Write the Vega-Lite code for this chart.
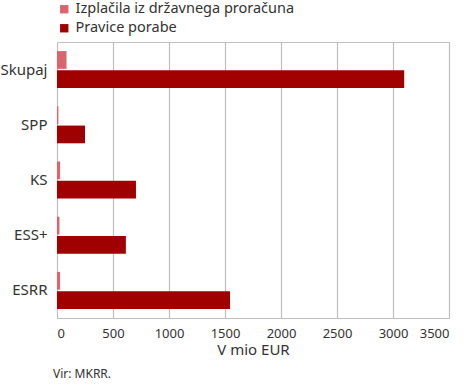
{
  "$schema": "https://vega.github.io/schema/vega-lite/v6.json",
  "autosize": {"type": "none"},
  "width": 392,
  "height": 276,
  "padding": {"left": 57, "top": 42, "right": 26, "bottom": 71},
  "background": "white",
  "config": {
    "font": "Noto Sans",
    "view": {"stroke": "#bfbfbf", "strokeWidth": 1}
  },
  "title": {
    "text": "Vir: MKRR.",
    "orient": "bottom",
    "anchor": "start",
    "frame": "group",
    "dx": -4,
    "offset": 12,
    "fontSize": 12,
    "fontWeight": "normal",
    "color": "#333333"
  },
  "data": {
    "values": [
      {"kategorija": "Skupaj", "serija": "Izplačila iz državnega proračuna", "vrednost": 85},
      {"kategorija": "Skupaj", "serija": "Pravice porabe", "vrednost": 3100},
      {"kategorija": "SPP", "serija": "Izplačila iz državnega proračuna", "vrednost": 12},
      {"kategorija": "SPP", "serija": "Pravice porabe", "vrednost": 250},
      {"kategorija": "KS", "serija": "Izplačila iz državnega proračuna", "vrednost": 28},
      {"kategorija": "KS", "serija": "Pravice porabe", "vrednost": 705},
      {"kategorija": "ESS+", "serija": "Izplačila iz državnega proračuna", "vrednost": 22},
      {"kategorija": "ESS+", "serija": "Pravice porabe", "vrednost": 615},
      {"kategorija": "ESRR", "serija": "Izplačila iz državnega proračuna", "vrednost": 28},
      {"kategorija": "ESRR", "serija": "Pravice porabe", "vrednost": 1545}
    ]
  },
  "mark": {"type": "bar"},
  "encoding": {
    "y": {
      "field": "kategorija",
      "type": "nominal",
      "sort": ["Skupaj", "SPP", "KS", "ESS+", "ESRR"],
      "scale": {"paddingInner": 0.33, "paddingOuter": 0.165},
      "axis": {
        "title": null,
        "ticks": false,
        "domain": false,
        "grid": false,
        "labelFontSize": 15,
        "labelColor": "#333333",
        "labelPadding": 10
      }
    },
    "yOffset": {
      "field": "serija",
      "type": "nominal",
      "sort": ["Izplačila iz državnega proračuna", "Pravice porabe"],
      "scale": {"paddingInner": 0.08}
    },
    "x": {
      "field": "vrednost",
      "type": "quantitative",
      "scale": {"domain": [0, 3500], "nice": false},
      "axis": {
        "title": "V mio EUR",
        "titleFontSize": 15,
        "titleFontWeight": "normal",
        "titleColor": "#333333",
        "titlePadding": 2,
        "values": [0, 500, 1000, 1500, 2000, 2500, 3000, 3500],
        "format": "d",
        "ticks": false,
        "domain": false,
        "grid": true,
        "gridColor": "#bfbfbf",
        "gridWidth": 1.2,
        "labelFontSize": 13,
        "labelColor": "#333333",
        "labelPadding": 9
      }
    },
    "color": {
      "field": "serija",
      "type": "nominal",
      "sort": ["Izplačila iz državnega proračuna", "Pravice porabe"],
      "scale": {"range": ["#d9666c", "#a10000"]},
      "legend": {
        "title": null,
        "orient": "none",
        "legendX": 0,
        "legendY": -40,
        "symbolType": "square",
        "symbolSize": 70,
        "symbolStrokeWidth": 0,
        "labelFontSize": 14.5,
        "labelLimit": 400,
        "labelColor": "#333333",
        "rowPadding": 4,
        "labelOffset": 4,
        "padding": 0
      }
    }
  }
}
